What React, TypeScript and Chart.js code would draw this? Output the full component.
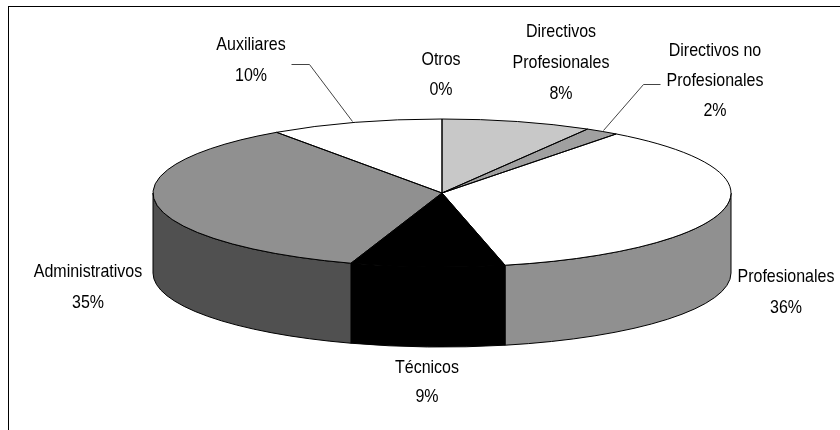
import React, { useEffect, useRef } from "react";
import Chart from "chart.js/auto";

const categories = ["Directivos Profesionales", "Directivos no Profesionales", "Profesionales", "Técnicos", "Administrativos", "Auxiliares", "Otros"];
const values = [8.4, 1.9, 36.2, 8.6, 35.2, 9.7, 0];
const topColors = ["#c8c8c8", "#a0a0a0", "#ffffff", "#000000", "#909090", "#ffffff", "#ffffff"];
const wallColors = ["#c8c8c8", "#a0a0a0", "#909090", "#000000", "#505050", "#ffffff", "#ffffff"];
const labelLines = [["Directivos", "Profesionales"], ["Directivos no", "Profesionales"], ["Profesionales"], ["Técnicos"], ["Administrativos"], ["Auxiliares"], ["Otros"]];

const cx = 442, cy = 193, rx = 289, ry = 74, depth = 80;
const labelAnchors = [
  { x: 561, y: 32, gap: 31 }, { x: 715, y: 51, gap: 30 }, { x: 786, y: 277, gap: 31 },
  { x: 427, y: 368, gap: 29 }, { x: 88, y: 272, gap: 31 }, { x: 251, y: 45, gap: 31 }, { x: 441, y: 60, gap: 30 },
];
const leaders = [
  [[660, 84], [643, 84], [603, 130]],
  [[291, 64], [309, 64], [352, 121]],
];

const pie3d = {
  id: "pie3d",
  beforeDraw(chart: any) {
    const { ctx } = chart;
    ctx.save();
    ctx.fillStyle = "#ffffff";
    ctx.fillRect(0, 0, 840, 430);
    ctx.strokeStyle = "#000000";
    ctx.lineWidth = 1;
    ctx.strokeRect(8.5, 6.5, 900, 600);
    ctx.restore();
  },
  beforeDatasetsDraw(chart: any) {
    const { ctx } = chart;
    const arcs = chart.getDatasetMeta(0).data;
    ctx.save();
    ctx.lineWidth = 1;
    ctx.strokeStyle = "#000000";
    arcs.forEach((arc: any, i: number) => {
      const a0 = Math.max(arc.startAngle, 0);
      const a1 = Math.min(arc.endAngle, Math.PI);
      if (a1 <= a0) return;
      ctx.beginPath();
      ctx.ellipse(cx, cy, rx, ry, 0, a0, a1);
      ctx.ellipse(cx, cy + depth, rx, ry, 0, a1, a0, true);
      ctx.closePath();
      ctx.fillStyle = wallColors[i];
      ctx.fill();
      ctx.stroke();
    });
    ctx.restore();
    const r = arcs[0].outerRadius;
    ctx.save();
    ctx.translate(cx, cy);
    ctx.scale(rx / r, ry / r);
    ctx.translate(-arcs[0].x, -arcs[0].y);
  },
  afterDatasetsDraw(chart: any) {
    const { ctx } = chart;
    ctx.restore();
    const arcs = chart.getDatasetMeta(0).data;
    ctx.save();
    ctx.lineWidth = 1;
    ctx.strokeStyle = "#000000";
    arcs.forEach((arc: any) => {
      if (arc.endAngle - arc.startAngle <= 0) return;
      ctx.beginPath();
      ctx.moveTo(cx, cy);
      ctx.ellipse(cx, cy, rx, ry, 0, arc.startAngle, arc.endAngle);
      ctx.closePath();
      ctx.stroke();
    });
    ctx.strokeStyle = "#444444";
    leaders.forEach((pts) => {
      ctx.beginPath();
      pts.forEach(([x, y], k) => (k ? ctx.lineTo(x + 0.5, y + 0.5) : ctx.moveTo(x + 0.5, y + 0.5)));
      ctx.stroke();
    });
    ctx.fillStyle = "#000000";
    ctx.font = '16px "Liberation Sans"';
    ctx.textAlign = "center";
    ctx.textBaseline = "middle";
    labelLines.forEach((lines, i) => {
      const a = labelAnchors[i];
      const all = [...lines, Math.round(values[i]) + "%"];
      all.forEach((t, k) => {
        ctx.save();
        ctx.translate(a.x, a.y + k * a.gap);
        ctx.scale(1, 1.2);
        ctx.fillText(t, 0, 0);
        ctx.restore();
      });
    });
    ctx.restore();
  },
};

export default function App() {
  const ref = useRef<HTMLCanvasElement>(null);
  useEffect(() => {
    const prev = document.body.style.margin;
    document.body.style.margin = "0";
    const chart = new Chart(ref.current!, {
      type: "pie",
      data: {
        labels: categories,
        datasets: [{ data: values, backgroundColor: topColors, borderWidth: 0, clip: false } as any],
      },
      options: {
        animation: false,
        responsive: false,
        plugins: { legend: { display: false }, tooltip: { enabled: false } },
      },
      plugins: [pie3d],
    });
    return () => {
      chart.destroy();
      document.body.style.margin = prev;
    };
  }, []);
  return <canvas ref={ref} width={840} height={430} style={{ display: "block" }} />;
}
